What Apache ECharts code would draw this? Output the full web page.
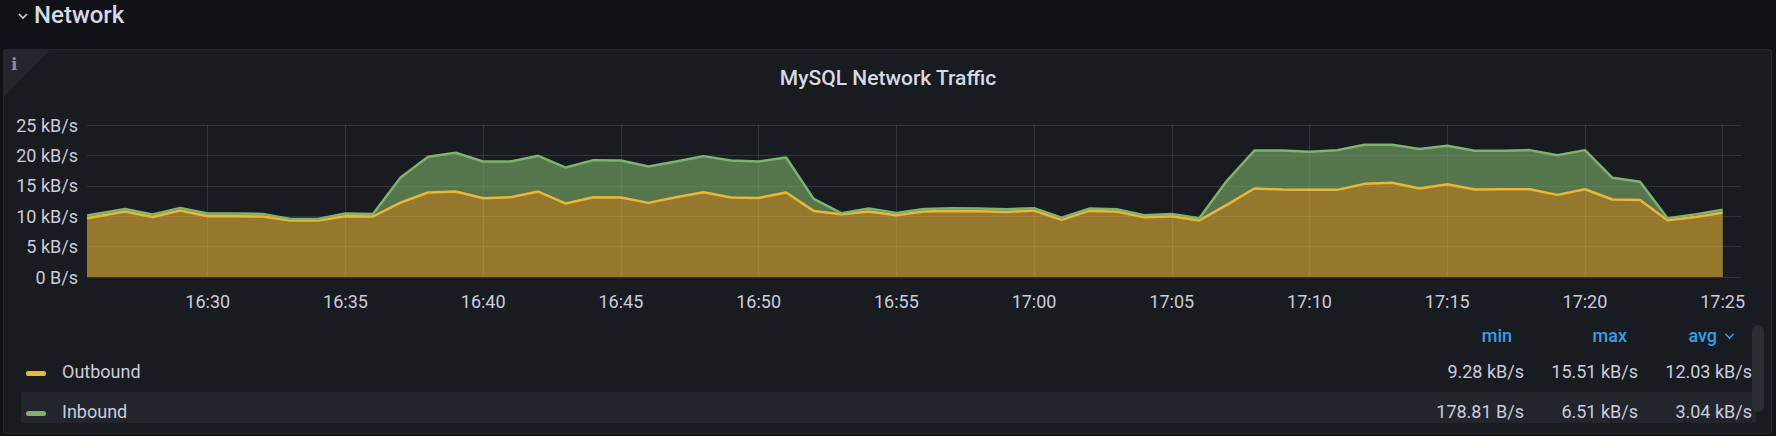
<!DOCTYPE html>
<html>
<head>
<meta charset="utf-8">
<script src="https://cdn.jsdelivr.net/npm/echarts/dist/echarts.min.js"></script>
<style>
  html, body { margin:0; padding:0; }
  body { width:1776px; height:436px; overflow:hidden; background:#111217; position:relative; font-family:Roboto, "Noto Sans", sans-serif; color:#ccccdc; }
  #rowtitle { position:absolute; left:34px; top:0px; font-size:24px; font-weight:500; color:#d8d9e2; line-height:30px; }
  #chev { position:absolute; left:17px; top:11px; }
  #panel { position:absolute; left:3px; top:49px; width:1767px; height:383px; background:#181b1f; border:1px solid #26292e; border-radius:3px; }
  #corner { position:absolute; left:3px; top:49px; width:0; height:0; border-top:49px solid #23262c; border-right:48px solid transparent; border-top-left-radius:3px; }
  #info { position:absolute; left:11px; top:54px; font-family:"DejaVu Serif", serif; font-weight:bold; font-size:17px; color:#8e9096; }
  #chart { position:absolute; left:0; top:0; width:1776px; height:436px; }
  .hdr { position:absolute; font-size:18px; font-weight:500; color:#33a2e5; line-height:22px; text-align:right; }
  .val { position:absolute; font-size:18px; color:#ccccdc; line-height:22px; text-align:right; white-space:nowrap; }
  .name { position:absolute; font-size:18px; color:#ccccdc; line-height:22px; white-space:nowrap; }
  .sw { position:absolute; width:20px; height:5px; border-radius:2px; }
  #band { position:absolute; left:21px; top:392px; width:1735px; height:31px; background:#22252b; }
  #scroll { position:absolute; left:1752px; top:325px; width:12px; height:87px; border-radius:6px; background:#2b2e34; }
</style>
</head>
<body>
<svg id="chev" width="12" height="10" viewBox="0 0 12 10"><polyline points="2,3 6,7 10,3" fill="none" stroke="#ccccdc" stroke-width="1.6"/></svg>
<div id="rowtitle">Network</div>
<div id="panel"></div>
<div id="corner"></div>
<div id="info">i</div>
<div id="band"></div>
<div id="legend"></div>
<div id="scroll"></div>
<div id="chart"></div>
<script>
// ---- data (kB/s) ----
const times = ['16:25:37','16:27','16:28','16:29','16:30','16:31','16:32','16:33','16:34','16:35','16:36','16:37','16:38','16:39',
  '16:40','16:41','16:42','16:43','16:44','16:45','16:46','16:47','16:48','16:49','16:50','16:51','16:52','16:53','16:54',
  '16:55','16:56','16:57','16:58','16:59','17:00','17:01','17:02','17:03','17:04','17:05','17:06','17:07','17:08','17:09',
  '17:10','17:11','17:12','17:13','17:14','17:15','17:16','17:17','17:18','17:19','17:20','17:21','17:22','17:23','17:24','17:25'];
const outbound = [9.67,10.76,9.88,10.93,10.0,10.0,9.95,9.28,9.3,10.0,9.95,12.24,13.89,14.05,
  12.96,13.13,14.05,12.08,13.13,13.07,12.19,13.13,13.95,13.07,13.01,13.89,10.87,10.32,10.76,
  10.16,10.76,10.87,10.82,10.71,10.93,9.39,10.87,10.76,9.83,10.0,9.3,11.86,14.55,14.38,
  14.33,14.33,15.32,15.51,14.55,15.27,14.38,14.44,14.44,13.51,14.44,12.74,12.68,9.34,9.85,10.56];
const inbound = [0.43,0.44,0.39,0.44,0.43,0.43,0.43,0.27,0.25,0.43,0.43,4.12,5.88,6.38,
  6.04,5.87,5.88,5.92,6.09,6.10,5.98,5.87,5.93,6.10,5.99,5.77,1.98,0.18,0.49,
  0.38,0.44,0.44,0.43,0.44,0.38,0.38,0.38,0.39,0.33,0.38,0.36,3.96,6.26,6.43,
  6.27,6.51,6.43,6.24,6.49,6.31,6.38,6.32,6.43,6.50,6.43,3.57,2.97,0.33,0.45,0.50];
const rangeStart = '16:25:37';
const rangeEnd = '17:25:40';
const xTicks = ['16:30','16:35','16:40','16:45','16:50','16:55','17:00','17:05','17:10','17:15','17:20','17:25'];
const yTicks = [0, 5, 10, 15, 20, 25];
const seriesNames = ['Outbound', 'Inbound'];
const seriesColors = ['#EAB839', '#7EB26D'];
const legendHeaders = ['min', 'max', 'avg'];
const legendMin = ['9.28 kB/s', '178.81 B/s'];
const legendMax = ['15.51 kB/s', '6.51 kB/s'];
const legendAvg = ['12.03 kB/s', '3.04 kB/s'];

// clock time -> minutes since midnight (axis value)
function m(s) {
  const p = s.split(':').map(Number);
  return p[0] * 60 + p[1] + (p[2] || 0) / 60;
}
function fmt(v) {
  const tot = Math.round(v);
  return String(Math.floor(tot / 60)).padStart(2, '0') + ':' + String(tot % 60).padStart(2, '0');
}

// ---- legend table (HTML) ----
const lg = document.getElementById('legend');
let html = '';
const hdrRight = [1776 - 1512, 1776 - 1627, 1776 - 1717];
legendHeaders.forEach((h, i) => {
  html += '<div class="hdr" style="right:' + hdrRight[i] + 'px;top:325px">' + h + '</div>';
});
html += '<svg style="position:absolute;left:1724px;top:332px" width="11" height="8" viewBox="0 0 11 8"><polyline points="1.5,2 5.5,6 9.5,2" fill="none" stroke="#33a2e5" stroke-width="1.6"/></svg>';
const rowCenters = [371.5, 411.5];
const colRight = [1776 - 1524, 1776 - 1638, 1776 - 1752];
seriesNames.forEach((n, i) => {
  const top = rowCenters[i] - 11;
  html += '<div class="sw" style="left:26px;top:' + (rowCenters[i] - 1) + 'px;background:' + seriesColors[i] + '"></div>';
  html += '<div class="name" style="left:62px;top:' + top + 'px">' + n + '</div>';
  [legendMin[i], legendMax[i], legendAvg[i]].forEach((v, j) => {
    html += '<div class="val" style="right:' + colRight[j] + 'px;top:' + top + 'px">' + v + '</div>';
  });
});
lg.innerHTML = html;

// ---- chart ----
const chart = echarts.init(document.getElementById('chart'), null, { renderer: 'svg' });
const gridColor = 'rgba(204,204,220,0.15)';
const tickValues = xTicks.map(m);
// data columns: [value, time] so the stacked dimension is the value (y) column
function seriesData(vals) { return times.map((s, i) => [vals[i], m(s)]); }
chart.setOption({
  animation: false,
  backgroundColor: 'transparent',
  title: {
    text: 'MySQL Network Traffic',
    left: 'center',
    top: 62,
    textStyle: { color: '#d8d9e2', fontSize: 21, fontWeight: 500, fontFamily: 'Roboto' }
  },
  grid: { left: 87, right: 35, top: 125, bottom: 159, containLabel: false },
  xAxis: {
    type: 'value',
    min: m(rangeStart),
    max: m(rangeEnd),
    axisLine: { show: false },
    axisTick: { show: false, customValues: tickValues },
    splitLine: { show: true, lineStyle: { color: gridColor, width: 1 } },
    axisLabel: {
      customValues: tickValues,
      color: '#ccccdc', fontSize: 18, fontFamily: 'Roboto', margin: 15,
      formatter: fmt
    }
  },
  yAxis: {
    type: 'value',
    min: yTicks[0],
    max: yTicks[yTicks.length - 1],
    interval: yTicks[1] - yTicks[0],
    axisLine: { show: false },
    axisTick: { show: false },
    splitLine: { show: true, lineStyle: { color: gridColor, width: 1 } },
    axisLabel: {
      color: '#ccccdc', fontSize: 18, fontFamily: 'Roboto', margin: 9,
      formatter: v => (v === 0 ? '0 B/s' : v + ' kB/s')
    }
  },
  series: [
    {
      name: seriesNames[0], type: 'line', stack: 'total', symbol: 'none',
      data: seriesData(outbound),
      encode: { x: 1, y: 0 },
      lineStyle: { color: seriesColors[0], width: 2.5 },
      itemStyle: { color: seriesColors[0] },
      areaStyle: { color: seriesColors[0], opacity: 0.6 }
    },
    {
      name: seriesNames[1], type: 'line', stack: 'total', symbol: 'none',
      data: seriesData(inbound),
      encode: { x: 1, y: 0 },
      lineStyle: { color: seriesColors[1], width: 2.5 },
      itemStyle: { color: seriesColors[1] },
      areaStyle: { color: seriesColors[1], opacity: 0.6 }
    }
  ]
});
</script>
</body>
</html>
